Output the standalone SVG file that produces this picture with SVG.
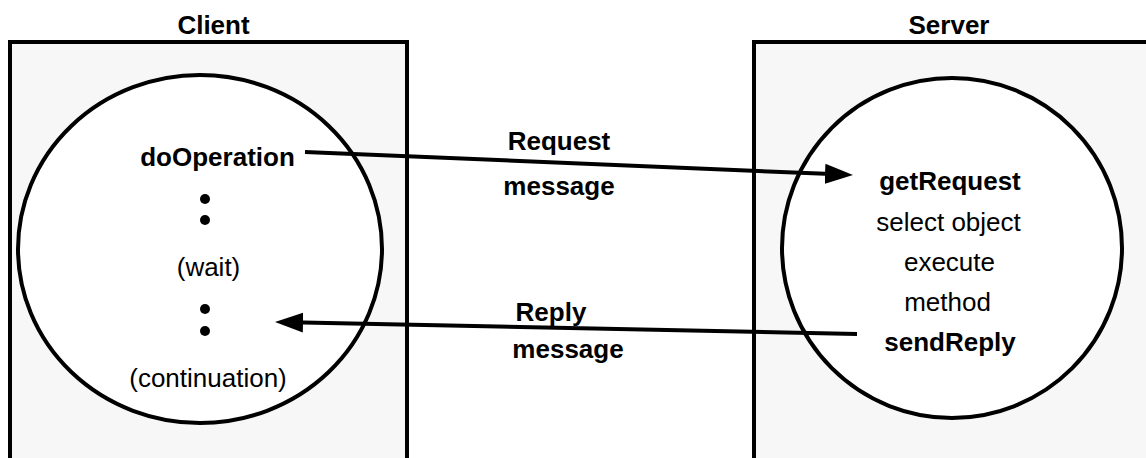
<svg xmlns="http://www.w3.org/2000/svg" width="1146" height="458" viewBox="0 0 1146 458">
  <style>
    .box { fill: #f7f7f7; stroke: #000; stroke-width: 4; }
    .circ { fill: #fff; stroke: #000; stroke-width: 4; }
    text { font-family: "Liberation Sans", Arial, sans-serif; font-size: 26px; fill: #000; text-anchor: middle; }
    .b { font-weight: bold; }
    .conn { stroke: #000; stroke-width: 4; fill: none; marker-end: url(#ah); }
    .dot { fill: #000; }
  </style>
  <defs>
    <marker id="ah" markerUnits="userSpaceOnUse" markerWidth="30" markerHeight="22" viewBox="0 -11 30 22" refX="0" refY="0" orient="auto">
      <path d="M0,-10 L28,0 L0,10 Z" fill="#000"/>
    </marker>
  </defs>
  <rect width="1146" height="458" fill="#fff"/>

  <g id="client">
    <text class="b" x="213.5" y="34">Client</text>
    <rect class="box" x="10" y="42" width="397" height="430"/>
    <ellipse class="circ" cx="200" cy="249" rx="182" ry="174"/>
    <text class="b" x="217.5" y="166">doOperation</text>
    <circle class="dot" cx="205" cy="199" r="5"/>
    <circle class="dot" cx="205" cy="220" r="5"/>
    <text x="208.5" y="276">(wait)</text>
    <circle class="dot" cx="205" cy="309" r="5"/>
    <circle class="dot" cx="205" cy="331" r="5"/>
    <text x="208" y="387">(continuation)</text>
  </g>

  <g id="server">
    <text class="b" x="949" y="34">Server</text>
    <rect class="box" x="754" y="42" width="400" height="430"/>
    <ellipse class="circ" cx="952" cy="248" rx="170" ry="170"/>
    <text class="b" x="950" y="190">getRequest</text>
    <text x="948.5" y="231">select object</text>
    <text x="949.5" y="271">execute</text>
    <text x="947.5" y="311">method</text>
    <text class="b" x="950" y="351">sendReply</text>
  </g>

  <g id="connectors">
    <path class="conn" d="M305,152 L825,173.8"/>
    <path class="conn" d="M857,334 L303,322.6"/>
  </g>

  <g id="labels">
    <text class="b" x="559" y="150">Request</text>
    <text class="b" x="559" y="195">message</text>
    <text class="b" x="551" y="321">Reply</text>
    <text class="b" x="568" y="358">message</text>
  </g>
</svg>
